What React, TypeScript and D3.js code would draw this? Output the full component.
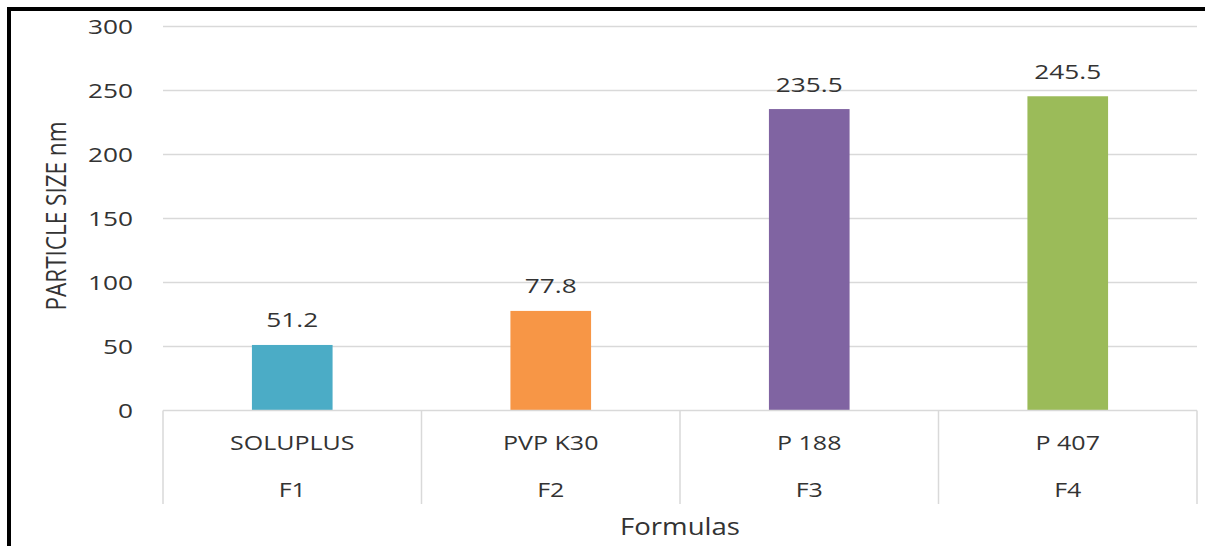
import React, { useEffect, useRef } from 'react'
import * as d3 from 'd3'

const categories = ['SOLUPLUS', 'PVP K30', 'P 188', 'P 407']
const formulas = ['F1', 'F2', 'F3', 'F4']
const values = [51.2, 77.8, 235.5, 245.5]
const colors = ['#4BACC6', '#F79646', '#8064A2', '#9BBB59']
const yTicks = [0, 50, 100, 150, 200, 250, 300]

const W = 1205, H = 546
const FONT = '"Open Sans", "Noto Sans", sans-serif'
const TXT = '#333333'

export default function App() {
  const ref = useRef<SVGSVGElement>(null)

  useEffect(() => {
    document.body.style.margin = '0'
    const svg = d3.select(ref.current)
    svg.selectAll('*').remove()

    const x = d3.scaleBand<string>()
      .domain(categories)
      .range([163, 1197])
      .paddingInner(0.688)
      .paddingOuter(0.344)
    const y = d3.scaleLinear().domain([0, 300]).range([410.5, 26.5])

    // stretched text helper (the source text is wide)
    const label = (g: any, tx: number, ty: number, s: string, size: number, anchor: string, sx = 1.28) => {
      g.append('text')
        .attr('transform', `translate(${tx},${ty}) scale(${sx},1)`)
        .attr('text-anchor', anchor)
        .attr('font-family', FONT)
        .attr('font-size', size)
        .attr('fill', TXT)
        .text(s)
    }

    // gridlines
    svg.append('g')
      .selectAll('line')
      .data(yTicks.filter(d => d > 0))
      .enter()
      .append('line')
      .attr('x1', 163).attr('x2', 1197)
      .attr('y1', d => y(d)).attr('y2', d => y(d))
      .attr('stroke', '#D9D9D9').attr('stroke-width', 1.5)

    // tick labels
    const ticks = svg.append('g')
    yTicks.forEach(t => label(ticks, 133, y(t) + 7.5, String(t), 20.5, 'end'))

    // bars
    svg.append('g')
      .selectAll('rect')
      .data(values)
      .enter()
      .append('rect')
      .attr('x', (d, i) => x(categories[i])!)
      .attr('y', d => y(d))
      .attr('width', x.bandwidth())
      .attr('height', d => y(0) - y(d))
      .attr('fill', (d, i) => colors[i])

    // value labels
    const vals = svg.append('g')
    values.forEach((v, i) => label(vals, x(categories[i])! + x.bandwidth() / 2, y(v) - 17.5, v.toFixed(1), 20.5, 'middle'))

    // category axis (two levels, boxed)
    const step = x.step()
    const axis = svg.append('g')
    axis.append('line')
      .attr('x1', 163).attr('x2', 1197)
      .attr('y1', y(0)).attr('y2', y(0))
      .attr('stroke', '#D9D9D9').attr('stroke-width', 1.5)
    d3.range(categories.length + 1).forEach(i => {
      axis.append('line')
        .attr('x1', 163 + i * step).attr('x2', 163 + i * step)
        .attr('y1', y(0)).attr('y2', 504)
        .attr('stroke', '#D9D9D9').attr('stroke-width', 1.5)
    })
    categories.forEach((c, i) => {
      const cx = x(c)! + x.bandwidth() / 2
      label(axis, cx, 450, c, 20.5, 'middle', 1.22)
      label(axis, cx, 497, formulas[i], 20.5, 'middle', 1.22)
    })

    // axis titles
    label(svg, 680, 535, 'Formulas', 24, 'middle', 1.15)
    svg.append('text')
      .attr('transform', 'translate(66,216) rotate(-90) scale(1,1.25)')
      .attr('text-anchor', 'middle')
      .attr('font-family', FONT)
      .attr('font-size', 22.5)
      .attr('fill', TXT)
      .text('PARTICLE SIZE nm')

    // frame (top and left)
    svg.append('line').attr('x1', 7).attr('x2', W).attr('y1', 9).attr('y2', 9)
      .attr('stroke', '#000').attr('stroke-width', 4)
    svg.append('line').attr('x1', 9).attr('x2', 9).attr('y1', 7).attr('y2', H)
      .attr('stroke', '#000').attr('stroke-width', 4)
  }, [])

  return (
    <svg ref={ref} width={W} height={H} style={{ display: 'block', background: '#fff' }} />
  )
}
